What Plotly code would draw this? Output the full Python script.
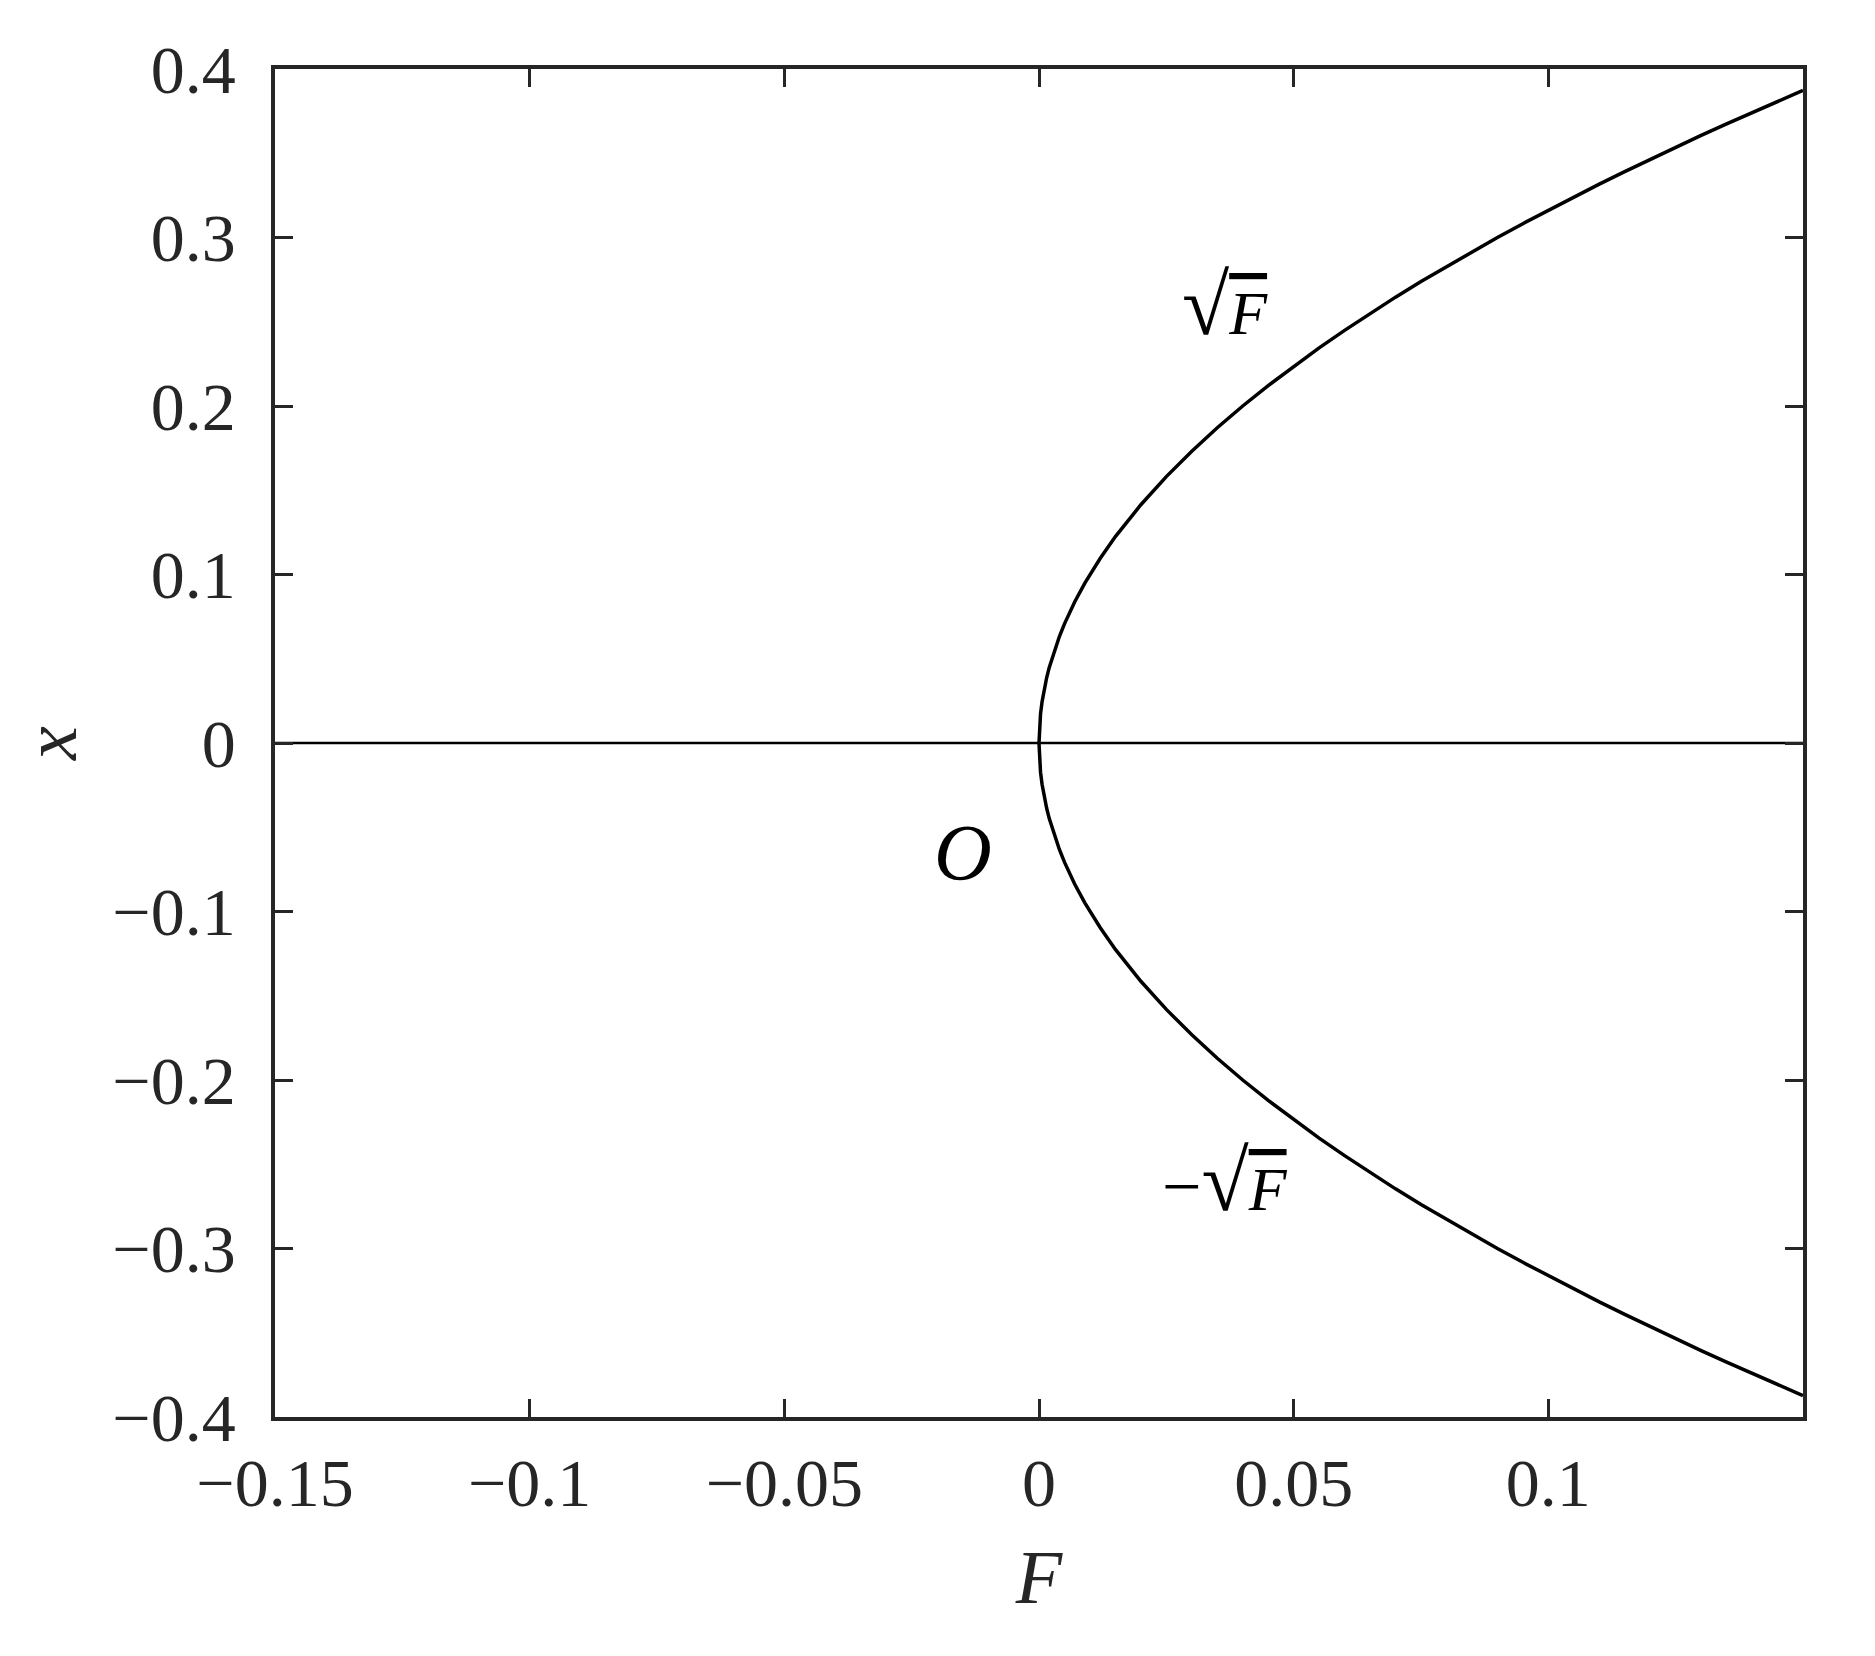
import plotly.graph_objects as go

# control parameter F and equilibrium branches
F_vals = [0, 0.0001, 0.0003, 0.0006, 0.001, 0.0015, 0.002, 0.003, 0.004, 0.005, 0.007,
          0.009, 0.012, 0.015, 0.02, 0.025, 0.03, 0.035, 0.04, 0.045, 0.05, 0.055,
          0.06, 0.065, 0.07, 0.075, 0.08, 0.085, 0.09, 0.095, 0.1, 0.105, 0.11,
          0.115, 0.12, 0.125, 0.13, 0.135, 0.14, 0.145, 0.15]
x_upper = [0, 0.010, 0.0173, 0.0245, 0.0316, 0.0387, 0.0447, 0.0548, 0.0632, 0.0707, 0.0837,
           0.0949, 0.1095, 0.1225, 0.1414, 0.1581, 0.1732, 0.1871, 0.2, 0.2121, 0.2236, 0.2345,
           0.2449, 0.255, 0.2646, 0.2739, 0.2828, 0.2915, 0.3, 0.3082, 0.3162, 0.324, 0.3317,
           0.3391, 0.3464, 0.3536, 0.3606, 0.3674, 0.3742, 0.3808, 0.3873]
x_lower = [0, -0.010, -0.0173, -0.0245, -0.0316, -0.0387, -0.0447, -0.0548, -0.0632, -0.0707, -0.0837,
           -0.0949, -0.1095, -0.1225, -0.1414, -0.1581, -0.1732, -0.1871, -0.2, -0.2121, -0.2236, -0.2345,
           -0.2449, -0.255, -0.2646, -0.2739, -0.2828, -0.2915, -0.3, -0.3082, -0.3162, -0.324, -0.3317,
           -0.3391, -0.3464, -0.3536, -0.3606, -0.3674, -0.3742, -0.3808, -0.3873]
F_zero = [-0.15, 0.15]
x_zero = [0, 0]

x_ticks = [-0.15, -0.1, -0.05, 0, 0.05, 0.1]
x_ticktext = ["\u22120.15", "\u22120.1", "\u22120.05", "0", "0.05", "0.1"]
y_ticks = [-0.4, -0.3, -0.2, -0.1, 0, 0.1, 0.2, 0.3, 0.4]
y_ticktext = ["\u22120.4", "\u22120.3", "\u22120.2", "\u22120.1", "0", "0.1", "0.2", "0.3", "0.4"]

FONT = "Liberation Serif"
AX = "#262626"

fig = go.Figure()
fig.add_trace(go.Scatter(x=F_zero, y=x_zero, mode="lines",
                         line={"color": "black", "width": 2.5}, showlegend=False))
fig.add_trace(go.Scatter(x=F_vals, y=x_upper, mode="lines",
                         line={"color": "black", "width": 3.5}, showlegend=False))
fig.add_trace(go.Scatter(x=F_vals, y=x_lower, mode="lines",
                         line={"color": "black", "width": 3.5}, showlegend=False))

axis_common = dict(
    showgrid=False, zeroline=False, showline=True, linecolor=AX, linewidth=3.5,
    mirror="ticks", ticks="inside", ticklen=18, tickwidth=3, tickcolor=AX,
    tickfont={"family": FONT, "size": 68, "color": AX},
)
fig.update_xaxes(range=[-0.15, 0.15], tickvals=x_ticks, ticktext=x_ticktext,
                 ticklabelstandoff=4,
                 title={"text": "<i>F</i>", "font": {"family": FONT, "size": 76, "color": AX},
                        "standoff": 30},
                 **axis_common)
fig.update_yaxes(range=[-0.4, 0.4], tickvals=y_ticks, ticktext=y_ticktext,
                 ticklabelstandoff=22,
                 title={"text": "<i>x</i>", "font": {"family": FONT, "size": 76, "color": AX},
                        "standoff": 30},
                 **axis_common)

ann_font = {"family": FONT, "color": "black"}
sqrt_txt = ("<span style='font-size:86px'>\u221a</span>"
            "<span style='text-decoration:overline'><i>F</i></span>")
fig.add_annotation(x=0.0365, y=0.26, text=sqrt_txt,
                   showarrow=False, font={**ann_font, "size": 62})
fig.add_annotation(x=0.0365, y=-0.26, text="<span style='font-size:70px'>\u2212</span>" + sqrt_txt,
                   showarrow=False, font={**ann_font, "size": 62})
fig.add_annotation(x=-0.015, y=-0.065, text="<i>O</i>",
                   showarrow=False, font={**ann_font, "size": 80})

fig.update_layout(
    width=1875, height=1656,
    margin={"l": 267, "r": 80, "t": 61, "b": 247},
    plot_bgcolor="white", paper_bgcolor="white",
)

fig.write_html("out.html")
